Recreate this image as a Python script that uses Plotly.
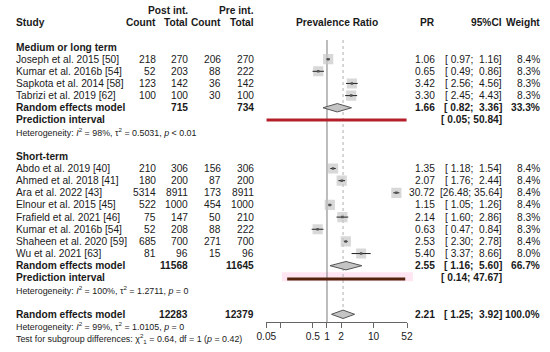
import math
import plotly.graph_objects as go

# ---------------- data ----------------
med_studies = ["Joseph et al. 2015 [50]", "Kumar et al. 2016b [54]", "Sapkota et al. 2014 [58]", "Tabrizi et al. 2019 [62]"]
med_post_count = [218, 52, 123, 100]
med_post_total = [270, 203, 142, 100]
med_pre_count = [206, 88, 36, 30]
med_pre_total = [270, 222, 142, 100]
med_pr = [1.06, 0.65, 3.42, 3.30]
med_lo = [0.97, 0.49, 2.56, 2.45]
med_hi = [1.16, 0.86, 4.56, 4.43]
med_w = [8.4, 8.3, 8.3, 8.3]
med_re = [1.66, 0.82, 3.36]
med_re_w = 33.3
med_tot = [715, 734]
med_pi = [0.05, 50.84]
med_het = "Heterogeneity: <i>I</i><sup>2</sup> = 98%, τ<sup>2</sup> = 0.5031, <i>p</i> &lt; 0.01"

sh_studies = ["Abdo et al. 2019 [40]", "Ahmed et al. 2018 [41]", "Ara et al. 2022 [43]", "Elnour et al. 2015 [45]",
              "Frafield et al. 2021 [46]", "Kumar et al. 2016b [54]", "Shaheen et al. 2020 [59]", "Wu et al. 2021 [63]"]
sh_post_count = [210, 180, 5314, 522, 75, 52, 685, 81]
sh_post_total = [306, 200, 8911, 1000, 147, 208, 700, 96]
sh_pre_count = [156, 87, 173, 454, 50, 88, 271, 15]
sh_pre_total = [306, 200, 8911, 1000, 210, 222, 700, 96]
sh_pr = [1.35, 2.07, 30.72, 1.15, 2.14, 0.63, 2.53, 5.40]
sh_lo = [1.18, 1.76, 26.48, 1.05, 1.60, 0.47, 2.30, 3.37]
sh_hi = [1.54, 2.44, 35.64, 1.26, 2.86, 0.84, 2.78, 8.66]
sh_w = [8.4, 8.4, 8.4, 8.4, 8.3, 8.3, 8.4, 8.0]
sh_re = [2.55, 1.16, 5.60]
sh_re_w = 66.7
sh_tot = [11568, 11645]
sh_pi = [0.14, 47.67]
sh_het = "Heterogeneity: <i>I</i><sup>2</sup> = 100%, τ<sup>2</sup> = 1.2711, <i>p</i> = 0"

all_re = [2.21, 1.25, 3.92]
all_re_w = 100.0
all_tot = [12283, 12379]
all_het = "Heterogeneity: <i>I</i><sup>2</sup> = 99%, τ<sup>2</sup> = 1.0105, <i>p</i> = 0"
test_txt = "Test for subgroup differences: χ<sup>2</sup><sub>1</sub> = 0.64, df = 1 (<i>p</i> = 0.42)"

tick_vals = [0.05, 0.1, 0.5, 1, 2, 10, 52]
tick_text = ["0.05", "", "0.5", "1", "2", "10", "52"]

# ---------------- layout helpers ----------------
W, H = 550, 352
ROW0, STEP = 22.7, 12.15
FONT = "Liberation Sans, Arial, Helvetica, sans-serif"
FS = 10.2
FS_SMALL = 8.9
TXT = "#1a1a1a"
NB = "\u00a0"


def ry(r):
    return ROW0 + STEP * r


def ci_str(lo, hi):
    return ("[%5.2f; %5.2f]" % (lo, hi)).replace(" ", NB)


annotations = []


def txt(xpx, row, s, anchor="left", bold=False, size=FS):
    if bold:
        s = "<b>" + s + "</b>"
    annotations.append(dict(x=xpx / W, y=ry(row), xref="paper", yref="y", text=s, showarrow=False,
                            xanchor=anchor, yanchor="middle", borderpad=0,
                            font=dict(family=FONT, size=size, color=TXT)))


X_STUDY, X_PC, X_PT, X_RC, X_RT = 5, 151.5, 184.5, 218.5, 252
X_PR, X_CI, X_W, X_MID = 438.5, 507.5, 546.5, 336.5

# header
txt(X_PT, -1, "Post int.", "right", True)
txt(X_RT, -1, "Pre int.", "right", True)
txt(X_STUDY, 0, "Study", "left", True)
txt(X_PC, 0, "Count", "right", True)
txt(X_PT, 0, "Total", "right", True)
txt(X_RC, 0, "Count", "right", True)
txt(X_RT, 0, "Total", "right", True)
txt(X_MID, 0, "Prevalence Ratio", "center", True)
txt(X_PR, 0, "PR", "right", True)
txt(X_CI, 0, "95%CI", "right", True)
txt(X_W, 0, "Weight", "right", True)

sq_x, sq_y, sq_s = [], [], []
ci_x, ci_y = [], []
diamonds = []


def study_rows(start, names, pc, pt, rc, rt, pr, lo, hi, w):
    for i, n in enumerate(names):
        r = start + i
        txt(X_STUDY, r, n)
        txt(X_PC, r, str(pc[i]), "right")
        txt(X_PT, r, str(pt[i]), "right")
        txt(X_RC, r, str(rc[i]), "right")
        txt(X_RT, r, str(rt[i]), "right")
        txt(X_PR, r, "%.2f" % pr[i], "right")
        txt(X_CI, r, ci_str(lo[i], hi[i]), "right")
        txt(X_W, r, "%.1f%%" % w[i], "right")
        sq_x.append(pr[i]); sq_y.append(ry(r)); sq_s.append(10.2 * math.sqrt(w[i] / 8.4))
        ci_x.extend([lo[i], hi[i], None]); ci_y.extend([ry(r), ry(r), None])


def re_row(r, tot, re, wt):
    txt(X_STUDY, r, "Random effects model", "left", True)
    if tot is not None:
        txt(X_PT, r, str(tot[0]), "right", True)
        txt(X_RT, r, str(tot[1]), "right", True)
    txt(X_PR, r, "%.2f" % re[0], "right", True)
    txt(X_CI, r, ci_str(re[1], re[2]), "right", True)
    txt(X_W, r, "%.1f%%" % wt, "right", True)
    diamonds.append((re, ry(r)))


# medium / long term
txt(X_STUDY, 2, "Medium or long term", "left", True)
study_rows(3, med_studies, med_post_count, med_post_total, med_pre_count, med_pre_total, med_pr, med_lo, med_hi, med_w)
re_row(7, med_tot, med_re, med_re_w)
txt(X_STUDY, 8, "Prediction interval", "left", True)
txt(X_CI, 8, ci_str(*med_pi), "right", True)
txt(X_STUDY, 9, med_het, "left", False, FS_SMALL)

# short term
txt(X_STUDY, 11, "Short-term", "left", True)
study_rows(12, sh_studies, sh_post_count, sh_post_total, sh_pre_count, sh_pre_total, sh_pr, sh_lo, sh_hi, sh_w)
re_row(20, sh_tot, sh_re, sh_re_w)
txt(X_STUDY, 21, "Prediction interval", "left", True)
txt(X_CI, 21, ci_str(*sh_pi), "right", True)
txt(X_STUDY, 22, sh_het, "left", False, FS_SMALL)

# overall
re_row(24, all_tot, all_re, all_re_w)
txt(X_STUDY, 25, all_het, "left", False, FS_SMALL)
txt(X_STUDY, 26, test_txt, "left", False, FS_SMALL)

fig = go.Figure()

AXIS_Y = 322
# reference lines
fig.add_trace(go.Scatter(x=[1, 1], y=[40, AXIS_Y], mode="lines", line=dict(color="#7a7a7a", width=1),
                         hoverinfo="skip", showlegend=False))
fig.add_trace(go.Scatter(x=[all_re[0], all_re[0]], y=[40, 311], mode="lines",
                         line=dict(color="#b0b0b0", width=1, dash="dot"), hoverinfo="skip", showlegend=False))

# prediction intervals
fig.add_shape(type="rect", xref="paper", yref="y", x0=280 / W, x1=415 / W, y0=ry(21) - 5.5, y1=ry(21) + 3.5,
              fillcolor="#ffe6f2", line=dict(width=0), layer="below")
fig.add_trace(go.Scatter(x=med_pi, y=[ry(8), ry(8)], mode="lines", line=dict(color="#b32028", width=3),
                         hoverinfo="skip", showlegend=False))
fig.add_trace(go.Scatter(x=sh_pi, y=[ry(21) + 1.2, ry(21) + 1.2], mode="lines", line=dict(color="#55230c", width=3),
                         hoverinfo="skip", showlegend=False))

# squares
fig.add_trace(go.Scatter(x=sq_x, y=sq_y, mode="markers",
                         marker=dict(symbol="square", size=sq_s, color="#c8c8c8", line=dict(width=0)),
                         hoverinfo="skip", showlegend=False))
fig.add_trace(go.Scatter(x=ci_x, y=ci_y, mode="lines", line=dict(color="#222222", width=1),
                         hoverinfo="skip", showlegend=False, connectgaps=False))
fig.add_trace(go.Scatter(x=sq_x, y=sq_y, mode="markers",
                         marker=dict(symbol="square", size=2.5, color="#555555"),
                         hoverinfo="skip", showlegend=False))

# diamonds
for (est, lo, hi), yc in diamonds:
    h = 4.2
    fig.add_trace(go.Scatter(x=[lo, est, hi, est, lo], y=[yc, yc - h, yc, yc + h, yc], mode="lines",
                             fill="toself", fillcolor="#c4c4c4", line=dict(color="#555555", width=1),
                             hoverinfo="skip", showlegend=False))

fig.update_layout(
    width=W, height=H, margin=dict(l=0, r=0, t=0, b=0),
    paper_bgcolor="white", plot_bgcolor="white",
    annotations=annotations, hovermode=False,
    font=dict(family=FONT, size=FS, color=TXT),
    xaxis=dict(type="log", range=[math.log10(0.05), math.log10(52)], domain=[264 / W, 408.9 / W],
               anchor="free", position=1 - AXIS_Y / H, showline=True, linecolor="#666666", linewidth=1,
               ticks="outside", ticklen=5, tickcolor="#666666", tickvals=tick_vals, ticktext=tick_text,
               showgrid=False, zeroline=False, fixedrange=True,
               tickfont=dict(family=FONT, size=FS, color=TXT)),
    yaxis=dict(range=[H, 0], domain=[0, 1], visible=False, showgrid=False, zeroline=False, fixedrange=True),
)

fig.write_html("out.html", config={"displayModeBar": False, "staticPlot": True},
               post_script="document.body.style.margin='0';document.body.style.padding='0';")
